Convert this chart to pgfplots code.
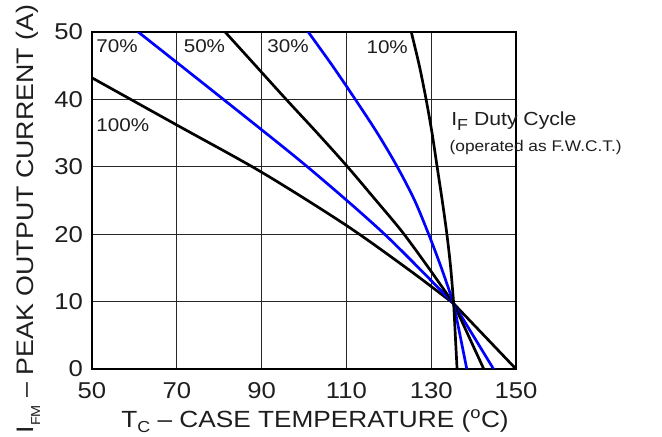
\documentclass[border=0pt]{standalone}
\usepackage{fontspec}
\setmainfont[FakeStretch=1.12]{Liberation Sans}
\usepackage{pgfplots}
\pgfplotsset{compat=1.18}
\definecolor{curveblue}{RGB}{0,0,255}
\definecolor{txt}{RGB}{30,30,30}
\begin{document}
\begin{tikzpicture}
\path[use as bounding box] (0,0) rectangle (662bp,437bp);
\begin{axis}[
    at={(92bp,68bp)}, anchor=south west,
    scale only axis, width=424bp, height=337bp,
    xmin=50, xmax=150, ymin=0, ymax=50,
    xtick={50,70,...,150}, ytick={0,10,...,50},
    grid=major,
    major grid style={black!85, line width=1.2pt},
    axis line style={line width=1.7pt},
    major tick length=0pt,
    tick label style={font=\fontsize{23}{23}\selectfont, text=txt,
        /pgf/number format/assume math mode=true},
    xticklabel style={anchor=base, yshift=-30bp},
    yticklabel style={anchor=east, inner sep=0pt, xshift=-9bp},
    clip mode=individual,
    every axis plot/.append style={line width=2.7pt, line join=round, line cap=round},
]
% 100%
\addplot[black, smooth, tension=0.5] coordinates {
    (50,43.2) (70,36.2) (90,29.2) (110,21.3) (125,14.6) (135.3,9.7)
};
\addplot[black] coordinates {(135.3,9.7) (150,0)};
% 70%
\addplot[curveblue, smooth, tension=0.5] coordinates {
    (60.9,50) (81,40) (100.8,30) (119,20) (135.3,9.7)
};
\addplot[curveblue] coordinates {(135.3,9.7) (144.7,0)};
% 50%
\addplot[black, smooth, tension=0.5] coordinates {
    (81.4,50) (88.6,45) (95.8,40) (103,35.1) (110,30.2) (116.6,25.3)
    (123.1,20.4) (129.4,15) (135.3,9.7)
};
\addplot[black] coordinates {(135.3,9.7) (142.4,0)};
% 30%
\addplot[curveblue, smooth, tension=0.5] coordinates {
    (101,50) (106.7,45) (112.1,40) (117.3,35) (122,30) (126.1,25)
    (129.4,20) (132.4,15) (135.3,9.7)
};
\addplot[curveblue] coordinates {(135.3,9.7) (138.4,0)};
% 10%
\addplot[black, smooth, tension=0.5] coordinates {
    (125.3,50) (127.2,45) (128.8,40) (130.2,35) (131.4,30) (132.6,25)
    (133.7,20) (134.6,15) (135.3,9.7)
};
\addplot[black] coordinates {(135.3,9.7) (136.1,0)};

\begin{scope}[every node/.style={font=\fontsize{18.5}{18.5}\selectfont, text=txt, inner sep=0pt, anchor=base west}]
\node at (axis cs:51,47.0) {70\%};
\node at (axis cs:71.6,47.0) {50\%};
\node at (axis cs:91.3,47.0) {30\%};
\node at (axis cs:114.7,46.8) {10\%};
\node at (axis cs:51,35.3) {100\%};
\end{scope}
\node[anchor=base west, inner sep=0pt, text=txt, font=\fontsize{19}{19}\selectfont]
    at (axis cs:134.7,36.2) {I\raisebox{-0.28em}{\fontsize{16}{16}\selectfont F} Duty Cycle};
\node[anchor=base west, inner sep=0pt, text=txt, font=\fontsize{15.5}{15.5}\selectfont]
    at (axis cs:134.3,32.2) {(operated as F.W.C.T.)};
\end{axis}
\node[anchor=base, inner sep=0pt, text=txt, font=\fontsize{23.5}{23.5}\selectfont]
    at (315bp,10bp) {T\raisebox{-0.25em}{\fontsize{16}{16}\selectfont C} -- CASE TEMPERATURE (\textsuperscript{o}C)};
\node[anchor=base, rotate=90, inner sep=0pt, text=txt, font=\fontsize{24}{24}\selectfont]
    at (33bp,218bp) {I\raisebox{-0.3em}{\fontsize{13}{13}\selectfont FM} -- PEAK OUTPUT CURRENT (A)};
\end{tikzpicture}
\end{document}
